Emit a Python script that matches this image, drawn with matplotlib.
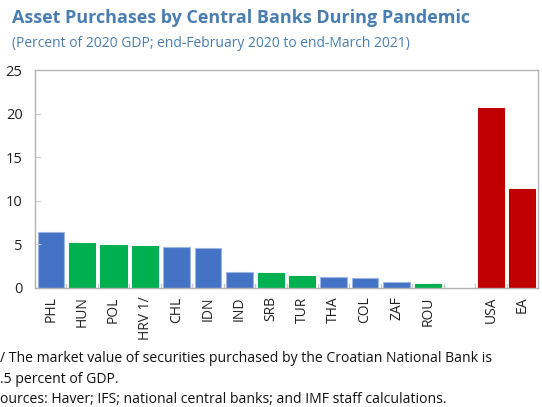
import numpy as np
from matplotlib import pyplot as plt

plt.rcParams['font.family'] = ['Open Sans', 'DejaVu Sans']

countries = ['PHL', 'HUN', 'POL', 'HRV 1/', 'CHL', 'IDN', 'IND', 'SRB', 'TUR', 'THA', 'COL', 'ZAF', 'ROU',
             '', 'USA', 'EA']
purchases = [6.4, 5.15, 4.95, 4.85, 4.65, 4.55, 1.8, 1.7, 1.4, 1.25, 1.15, 0.7, 0.45, 0.0, 20.6, 11.3]
groups = ['em', 'eu', 'eu', 'eu', 'em', 'em', 'em', 'eu', 'eu', 'em', 'em', 'em', 'eu', 'none', 'ae', 'ae']

colors = {'em': '#4472C4', 'eu': '#00B050', 'ae': '#C00000', 'none': 'none'}
edges = {'em': '#9DB5E3', 'eu': '#00B050', 'ae': '#C00000', 'none': 'none'}

fig = plt.figure(figsize=(5.42, 4.07), dpi=100)
ax = fig.add_axes([0.0646, 0.2924, 0.928, 0.5356])

x = np.arange(len(countries))
ax.bar(x, purchases, width=0.84, color=[colors[g] for g in groups],
       edgecolor=[edges[g] for g in groups], linewidth=0.8)

ax.set_xlim(-0.5, len(countries) - 0.5)
ax.set_ylim(0, 25)
ax.set_yticks([0, 5, 10, 15, 20, 25])
ax.tick_params(axis='y', direction='in', length=4, color='#d0d0d0', labelsize=10.5, pad=9, labelcolor='#222222')

ax.set_xticks(x)
ax.set_xticklabels(countries, rotation=90, fontsize=10, color='#222222')
ax.tick_params(axis='x', length=0, pad=6)
# small separators between categories
for b in x[:-1] + 0.5:
    ax.plot([b, b], [0, 0.5], color='#c8c8c8', lw=1, clip_on=False)

for s in ax.spines.values():
    s.set_color('#b4b4b4')
    s.set_linewidth(1)

fig.text(0.022, 0.955, 'Asset Purchases by Central Banks During Pandemic', fontsize=13, fontweight='bold',
         color='#4A7EB0', va='center')
fig.text(0.022, 0.893, '(Percent of 2020 GDP; end-February 2020 to end-March 2021)', fontsize=10,
         color='#4A7EB0', va='center')

fig.text(0.0, 0.119, '/ The market value of securities purchased by the Croatian National Bank is',
         fontsize=10.1, color='#111111', va='center')
fig.text(0.0, 0.068, '.5 percent of GDP.', fontsize=10.1, color='#111111', va='center')
fig.text(0.0, 0.018, 'ources: Haver; IFS; national central banks; and IMF staff calculations.',
         fontsize=10.1, color='#111111', va='center')

fig.savefig('out.png', dpi=100)
